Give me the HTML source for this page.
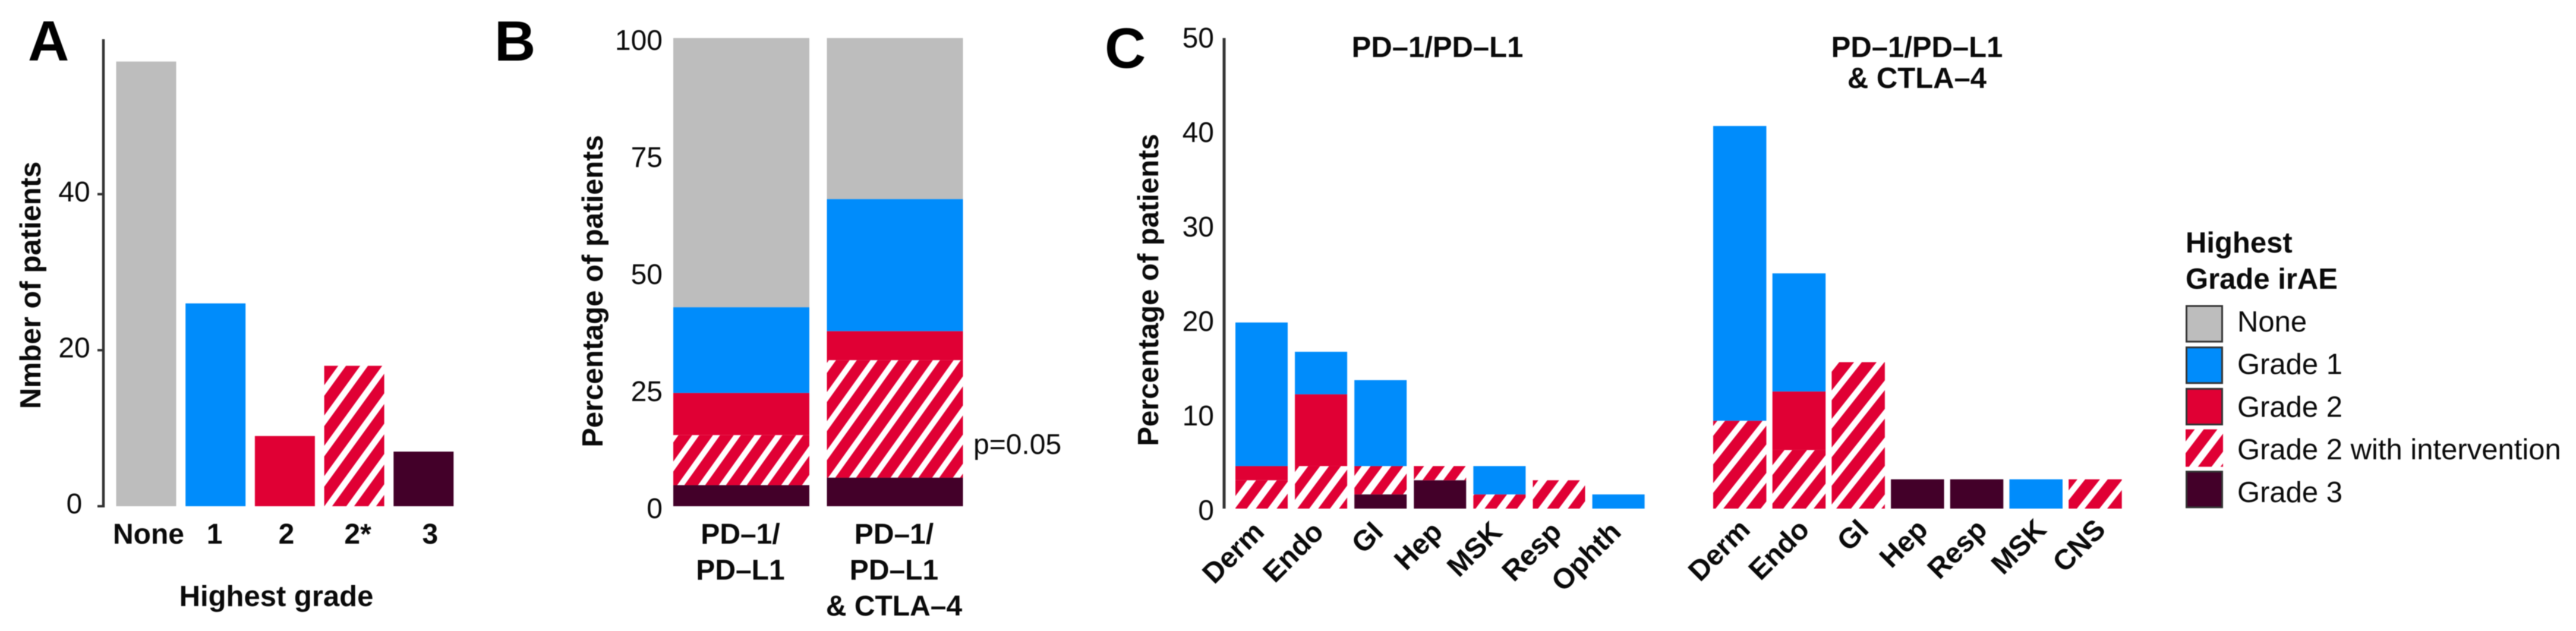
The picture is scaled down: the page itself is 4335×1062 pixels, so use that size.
<!DOCTYPE html>
<html lang="en">
<head>
<meta charset="utf-8">
<title>Immune-related adverse events by grade</title>
<style>
html,body{margin:0;padding:0;background:#fff;}
svg{display:block;filter:blur(0.9px);}
text{font-family:"Liberation Sans",Arial,sans-serif;fill:#0a0a0a;}
.tick{font-size:48px;}
.bold{font-size:49px;font-weight:700;}
.cat{font-size:48px;font-weight:700;}
.leg{font-size:49px;}
.letter{font-size:96px;font-weight:700;fill:#000;}
</style>
</head>
<body>
<svg id="figure" xmlns="http://www.w3.org/2000/svg" width="4335" height="1062" viewBox="0 0 4335 1062">
  <defs id="defs"></defs>
  <rect x="0" y="0" width="4335" height="1062" fill="#fff"/>
  <text class="letter" x="47" y="102">A</text>
  <text class="letter" x="832" y="102">B</text>
  <text class="letter" x="1859" y="114">C</text>
  <text class="bold" transform="translate(68 480) rotate(-90)" text-anchor="middle">Nmber of patients</text>
  <text class="bold" x="465" y="1020" text-anchor="middle">Highest grade</text>
  <text class="bold" transform="translate(1014 490) rotate(-90)" text-anchor="middle">Percentage of patients</text>
  <text class="tick" x="1638" y="764">p=0.05</text>
  <text class="bold" transform="translate(1949 488) rotate(-90)" text-anchor="middle">Percentage of patients</text>
  <text class="bold" x="2419" y="96" text-anchor="middle">PD–1/PD–L1</text>
  <text class="bold" x="3226" y="96" text-anchor="middle">PD–1/PD–L1</text>
  <text class="bold" x="3226" y="148" text-anchor="middle">&amp; CTLA–4</text>
  <text class="bold" x="3678" y="425">Highest</text>
  <text class="bold" x="3678" y="486">Grade irAE</text>
  <g id="plot"></g>
</svg>
<script>
// ---- Panel A data ----
const aCategories = ['None', '1', '2', '2*', '3'];
const aValues = [57, 26, 9, 18, 7];
const aTicks = [0, 20, 40];

// ---- Panel B data ----
const bCategories = [['PD–1/', 'PD–L1'], ['PD–1/', 'PD–L1', '& CTLA–4']];
const bGrade3 = [4.5, 6.1];
const bHatch = [10.7, 25.1];
const bGrade2 = [9.0, 6.2];
const bGrade1 = [18.3, 28.2];
const bNone = [57.5, 34.4];
const bTicks = [0, 25, 50, 75, 100];

// ---- Panel C data ----
const cTicks = [0, 10, 20, 30, 40, 50];
const c1Categories = ['Derm', 'Endo', 'GI', 'Hep', 'MSK', 'Resp', 'Ophth'];
const c1Grade3 = [0, 0, 1.5, 3, 0, 0, 0];
const c1Hatch = [3, 4.5, 3, 1.5, 1.5, 3, 0];
const c1Grade2 = [1.5, 7.6, 0, 0, 0, 0, 0];
const c1Grade1 = [15.2, 4.5, 9.1, 0, 3, 0, 1.5];
const c2Categories = ['Derm', 'Endo', 'GI', 'Hep', 'Resp', 'MSK', 'CNS'];
const c2Grade3 = [0, 0, 0, 3.1, 3.1, 0, 0];
const c2Hatch = [9.3, 6.2, 15.5, 0, 0, 0, 3.1];
const c2Grade2 = [0, 6.2, 0, 0, 0, 0, 0];
const c2Grade1 = [31.2, 12.5, 0, 0, 0, 3.1, 0];

// ---- Legend data ----
const legendLabels = ['None', 'Grade 1', 'Grade 2', 'Grade 2 with intervention', 'Grade 3'];

// ---- Colours ----
const GREY = '#bdbdbd', BLUE = '#008cfb', RED = '#e00034', DARK = '#430029', AXIS = '#333333';

// ---- Axis functions ----
const yA = v => 852 - v * 13.13;
const xA = i => 195.5 + i * 116.7;
const yB = v => 852 - v * 7.88;
const xB = i => 1133 + i * 258.5;
const yC = v => 856 - v * 15.9;
const xC1 = i => 2079 + i * 100.1;
const xC2 = i => 2883 + i * 99.7;

const NS = 'http://www.w3.org/2000/svg';
const plot = document.getElementById('plot');
const defs = document.getElementById('defs');

function mk(tag, attrs, parent) {
  const el = document.createElementNS(NS, tag);
  for (const k in attrs) el.setAttribute(k, attrs[k]);
  (parent || plot).appendChild(el);
  return el;
}

function makeHatch(id, w, h, red, offX, offY) {
  const p = mk('pattern', {id: id, patternUnits: 'userSpaceOnUse', width: w, height: h, x: offX, y: offY}, defs);
  
  
  const a = mk('polygon', {points: `0,${h} ${red},${h} ${red + w},0 ${w},0`, fill: RED}, p);
  
  
  const b = mk('polygon', {points: `${-w},${h} ${red - w},${h} ${red},0 0,0`, fill: RED}, p);
  
  
}
makeHatch('hatch-a', 37, 51, 24, 545, 616);
makeHatch('hatch-b', 35, 49, 23, 1127, 606);
makeHatch('hatch-c', 35, 47, 20, 2079, 808);
makeHatch('hatch-c2', 38, 48, 25, 2900, 856);
makeHatch('hatch-l', 38, 50, 23, 3671, 722);

// ---- Panel A ----
const aFills = [GREY, BLUE, RED, 'url(#hatch-a)', DARK];
const aLabelNudge = [4, -1.6, 2.6, 6, 11];
aValues.forEach((v, i) => {
  const r = mk('rect', {x: xA(i), y: yA(v), width: 101, height: yA(0) - yA(v), fill: aFills[i]});
  
  
  const t = mk('text', {x: xA(i) + 50.5 + aLabelNudge[i], y: 915, 'text-anchor': 'middle', class: 'cat'});
  t.textContent = aCategories[i];
  
  
});
const aAxis = mk('line', {x1: 174, x2: 174, y1: 66, y2: yA(0) + 2, stroke: AXIS, 'stroke-width': 4.5});


aTicks.forEach(v => {
  const tk = mk('line', {x1: 164, x2: 174, y1: yA(v), y2: yA(v), stroke: AXIS, 'stroke-width': 4});
  
  
  const t = mk('text', {x: 125, y: yA(v) + 12, 'text-anchor': 'middle', class: 'tick'});
  t.textContent = v;
  
  
});

// ---- Generic stacked bars ----
function drawStack(panel, cats, layers, x, y, w) {
  cats.forEach((c, i) => {
    let base = 0;
    layers.forEach(layer => {
      const v = layer.values[i];
      if (v > 0) {
        const r = mk('rect', {x: x(i), y: y(base + v), width: w, height: y(base) - y(base + v), fill: layer.fill});
        
        
      }
      base += v;
    });
  });
}

// ---- Panel B ----
drawStack('panel-b', bCategories, [
  {name: 'grade-3', values: bGrade3, fill: DARK},
  {name: 'grade-2-intervention', values: bHatch, fill: 'url(#hatch-b)'},
  {name: 'grade-2', values: bGrade2, fill: RED},
  {name: 'grade-1', values: bGrade1, fill: BLUE},
  {name: 'none', values: bNone, fill: GREY}
], xB, yB, 229);
bCategories.forEach((lines, i) => {
  lines.forEach((line, j) => {
    const t = mk('text', {x: xB(i) + 113, y: 915 + j * 60.5, 'text-anchor': 'middle', class: 'cat'});
    t.textContent = line;
    
    
  });
});
bTicks.forEach(v => {
  const t = mk('text', {x: 1115, y: yB(v) + 20, 'text-anchor': 'end', class: 'tick'});
  t.textContent = v;
  
  
});

// ---- Panel C ----
function cLayers(g3, h, g2, g1, hatchFill) {
  return [
    {name: 'grade-3', values: g3, fill: DARK},
    {name: 'grade-2-intervention', values: h, fill: hatchFill},
    {name: 'grade-2', values: g2, fill: RED},
    {name: 'grade-1', values: g1, fill: BLUE}
  ];
}
drawStack('panel-c1', c1Categories, cLayers(c1Grade3, c1Hatch, c1Grade2, c1Grade1, 'url(#hatch-c)'), xC1, yC, 88);
drawStack('panel-c2', c2Categories, cLayers(c2Grade3, c2Hatch, c2Grade2, c2Grade1, 'url(#hatch-c2)'), xC2, yC, 89.5);
function rotatedLabels(panel, cats, x, w, dx, py) {
  cats.forEach((c, i) => {
    const px = x(i) + w / 2 + dx;
    const t = mk('text', {x: px, y: py, 'text-anchor': 'end', class: 'cat', transform: `rotate(-45 ${px} ${py})`});
    t.textContent = c;
    
    
  });
}
rotatedLabels('panel-c1', c1Categories, xC1, 88, 7, 898);
rotatedLabels('panel-c2', c2Categories, xC2, 89.5, 20, 894);
const cAxis = mk('line', {x1: 2060, x2: 2060, y1: 64, y2: yC(0), stroke: AXIS, 'stroke-width': 5});


cTicks.forEach(v => {
  const t = mk('text', {x: 2043, y: yC(v) + 19, 'text-anchor': 'end', class: 'tick'});
  t.textContent = v;
  
  
});

// ---- Legend ----
const legendFills = [GREY, BLUE, RED, 'url(#hatch-l)', DARK];
legendLabels.forEach((label, i) => {
  const hatched = label.indexOf('with') >= 0;
  const top = 513.5 + i * 69.7;
  const sw = mk('rect', {x: hatched ? 3678 : 3679.5, y: hatched ? top : top + 1.5, width: hatched ? 63 : 60, height: hatched ? 63 : 60,
    fill: legendFills[i], stroke: hatched ? 'none' : AXIS, 'stroke-width': 3});
  
  
  const t = mk('text', {x: 3765, y: 558 + i * 71.7, class: 'leg'});
  t.textContent = label;
  
  
});
</script>
</body>
</html>
